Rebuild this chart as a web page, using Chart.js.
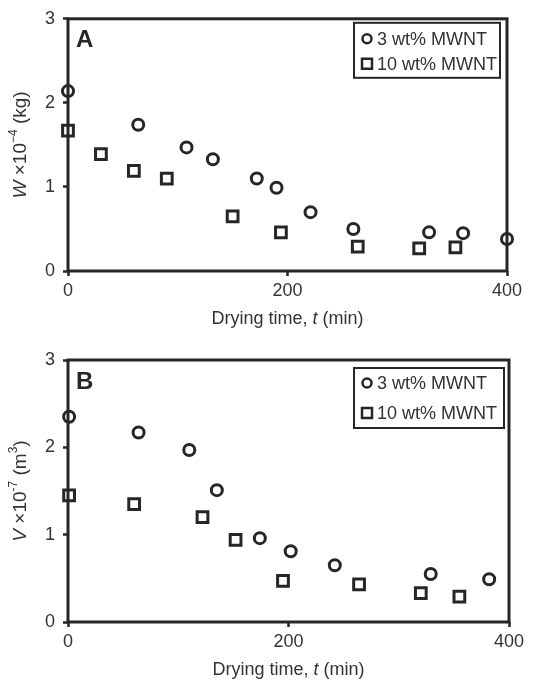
<!DOCTYPE html>
<html>
<head>
<meta charset="utf-8">
<title>Drying curves</title>
<script src="https://cdn.jsdelivr.net/npm/chart.js@4"></script>
<style>
  body { margin: 0; background: #fff; }
  .panel { position: relative; width: 542px; }
  #panelA { height: 335px; }
  #panelB { height: 349px; }
</style>
</head>
<body>
<div class="panel" id="panelA"><canvas id="chartA"></canvas></div>
<div class="panel" id="panelB"><canvas id="chartB"></canvas></div>
<script>
const seriesLabels = ['3 wt% MWNT', '10 wt% MWNT'];
const xTicks = [0, 200, 400];
const yTicks = [0, 1, 2, 3];

// panel A: weight, W x10^-4 (kg)
const timeA3 = [0, 64, 108, 132, 172, 190, 221, 260, 329, 360, 400];
const weightA3 = [2.14, 1.74, 1.47, 1.33, 1.10, 0.99, 0.70, 0.50, 0.46, 0.45, 0.38];
const timeA10 = [0, 30, 60, 90, 150, 194, 264, 320, 353];
const weightA10 = [1.67, 1.39, 1.19, 1.10, 0.65, 0.46, 0.29, 0.27, 0.28];

// panel B: volume, V x10^-7 (m3)
const timeB3 = [1, 64, 110, 135, 174, 202, 242, 329, 382];
const volumeB3 = [2.35, 2.17, 1.97, 1.51, 0.96, 0.81, 0.65, 0.55, 0.49];
const timeB10 = [1, 60, 122, 152, 195, 264, 320, 355];
const volumeB10 = [1.45, 1.35, 1.20, 0.94, 0.47, 0.43, 0.33, 0.29];

const FONT = '"Liberation Sans", Arial, sans-serif';
const INK = '#262626';
const TEXT = '#333';

function pts(xs, ys) {
  return xs.map((x, i) => ({ x: x, y: ys[i] }));
}

// draws text made of parts: [text, style] where style is '', 'italic' or 'sup'
function drawRich(ctx, parts, x, y, size, rot) {
  ctx.save();
  ctx.translate(x, y);
  if (rot) ctx.rotate(rot);
  ctx.textBaseline = 'middle';
  ctx.textAlign = 'left';
  ctx.fillStyle = TEXT;
  const fontOf = p => (p[1] === 'italic' ? 'italic ' : '') +
    (p[1] === 'sup' ? Math.round(size * 0.65) : size) + 'px ' + FONT;
  let total = 0;
  parts.forEach(p => { ctx.font = fontOf(p); total += ctx.measureText(p[0]).width; });
  let cx = -total / 2;
  parts.forEach(p => {
    ctx.font = fontOf(p);
    ctx.fillText(p[0], cx, p[1] === 'sup' ? -size * 0.38 : 0);
    cx += ctx.measureText(p[0]).width;
  });
  ctx.restore();
}

function marker(ctx, style, x, y, r) {
  ctx.beginPath();
  if (style === 'circle') ctx.arc(x, y, r, 0, Math.PI * 2);
  else ctx.rect(x - r, y - r, 2 * r, 2 * r);
  ctx.fillStyle = '#fff';
  ctx.fill();
  ctx.stroke();
}

const decor = {
  id: 'decor',
  afterDraw(chart, args, opts) {
    const ctx = chart.ctx;
    const a = chart.chartArea;
    ctx.save();
    // frame
    ctx.strokeStyle = INK;
    ctx.lineWidth = 3;
    ctx.strokeRect(a.left, a.top, a.right - a.left, a.bottom - a.top);
    // panel letter
    ctx.fillStyle = INK;
    ctx.font = 'bold 24px ' + FONT;
    ctx.textBaseline = 'middle';
    ctx.fillText(opts.letter, a.left + 8, a.top + 22);
    // legend box
    const lb = opts.legend;
    const bx = a.right - lb.right - lb.width;
    const by = a.top + lb.top;
    ctx.lineWidth = 2;
    ctx.strokeRect(bx, by, lb.width, lb.height);
    chart.data.datasets.forEach((ds, i) => {
      const ry = by + lb.rows[i];
      ctx.strokeStyle = INK;
      ctx.lineWidth = 2.5;
      marker(ctx, ds.pointStyle, bx + 13, ry, ds.pointStyle === 'circle' ? 4.5 : 5);
      ctx.fillStyle = TEXT;
      ctx.font = '18px ' + FONT;
      ctx.textBaseline = 'middle';
      ctx.fillText(ds.label, bx + 23, ry + 1);
    });
    // axis titles
    drawRich(ctx, opts.yTitle, 21, (a.top + a.bottom) / 2, 19, -Math.PI / 2);
    drawRich(ctx, opts.xTitle, (a.left + a.right) / 2, a.bottom + 48, 18, 0);
    ctx.restore();
  }
};

function makeChart(id, d3, d10, o) {
  return new Chart(document.getElementById(id), {
    type: 'scatter',
    data: {
      datasets: [
        { label: seriesLabels[0], data: d3, pointStyle: 'circle', pointRadius: 5.5,
          borderWidth: 3, borderColor: INK, backgroundColor: '#fff', clip: false },
        { label: seriesLabels[1], data: d10, pointStyle: 'rect', pointRadius: 7.6,
          borderWidth: 3, borderColor: INK, backgroundColor: '#fff', clip: false }
      ]
    },
    options: {
      responsive: true,
      maintainAspectRatio: false,
      animation: false,
      layout: { padding: { top: o.top, right: o.right, left: 0, bottom: 0 } },
      scales: {
        x: {
          type: 'linear', min: 0, max: 400,
          afterBuildTicks: s => { s.ticks = xTicks.map(v => ({ value: v })); },
          afterFit: s => { s.height = o.xHeight; },
          ticks: { color: TEXT, font: { size: 18, family: FONT }, padding: 4 },
          grid: { drawOnChartArea: false, tickLength: 5, tickWidth: 2.5, tickColor: INK },
          border: { display: false }
        },
        y: {
          type: 'linear', min: 0, max: 3,
          afterBuildTicks: s => { s.ticks = yTicks.map(v => ({ value: v })); },
          afterFit: s => { s.width = 68; },
          ticks: { color: TEXT, font: { size: 18, family: FONT }, padding: 8 },
          grid: { drawOnChartArea: false, tickLength: 5, tickWidth: 2.5, tickColor: INK },
          border: { display: false }
        }
      },
      plugins: {
        legend: { display: false },
        tooltip: { enabled: false },
        decor: o.decor
      }
    },
    plugins: [decor]
  });
}

makeChart('chartA', pts(timeA3, weightA3), pts(timeA10, weightA10), {
  top: 12, right: 35, xHeight: 64,
  decor: {
    letter: 'A',
    legend: { right: 7, top: 4, width: 146, height: 55, rows: [16, 41] },
    yTitle: [['W', 'italic'], [' \u00d710', ''], ['\u22124', 'sup'], [' (kg)', '']],
    xTitle: [['Drying time, ', ''], ['t', 'italic'], [' (min)', '']]
  }
});

makeChart('chartB', pts(timeB3, volumeB3), pts(timeB10, volumeB10), {
  top: 25, right: 33, xHeight: 62,
  decor: {
    letter: 'B',
    legend: { right: 5, top: 8, width: 150, height: 60, rows: [15, 45] },
    yTitle: [['V', 'italic'], [' \u00d710', ''], ['-7', 'sup'], [' (m', ''], ['3', 'sup'], [')', '']],
    xTitle: [['Drying time, ', ''], ['t', 'italic'], [' (min)', '']]
  }
});
</script>
</body>
</html>
